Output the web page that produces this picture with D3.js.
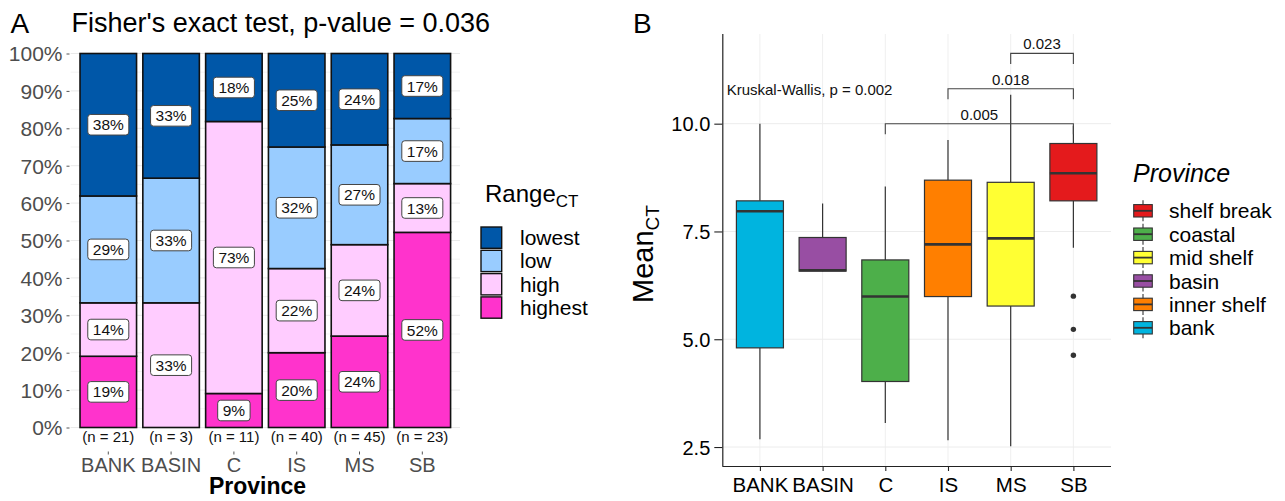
<!DOCTYPE html>
<html>
<head>
<meta charset="utf-8">
<script src="https://cdn.jsdelivr.net/npm/d3@7"></script>
<style>
  html, body { margin: 0; padding: 0; background: #fff; }
  svg { display: block; font-family: "Liberation Sans", Arial, Helvetica, sans-serif; }
</style>
</head>
<body>
<svg id="chart" width="1285" height="501"></svg>
<script>
// ---------------- Panel A data ----------------
const provinces = ["BANK", "BASIN", "C", "IS", "MS", "SB"];
const rangeLevels = ["lowest", "low", "high", "highest"];
const rangeColors = ["#0057A8", "#99CCFF", "#FFCCFF", "#FF33CC"];
const countsLowest  = [8, 1, 2, 10, 11, 4];
const countsLow     = [6, 1, 0, 13, 12, 4];
const countsHigh    = [3, 1, 8, 9, 11, 3];
const countsHighest = [4, 0, 1, 8, 11, 12];
const pctTicks = [0, 10, 20, 30, 40, 50, 60, 70, 80, 90, 100];
const titleA = "Fisher's exact test, p-value = 0.036";

// ---------------- Panel B data ----------------
const whiskerLow  = [2.68, 6.57, 3.06, 2.66, 2.52, 7.12];
const q1          = [4.80, 6.58, 4.02, 5.99, 5.77, 8.21];
const medians     = [7.97, 6.60, 5.99, 7.20, 7.34, 8.85];
const q3          = [8.21, 7.36, 6.84, 8.69, 8.64, 9.54];
const whiskerHigh = [10.00, 8.15, 8.54, 9.62, 10.67, 9.95];
const outliers    = [[], [], [], [], [], [6.00, 5.23, 4.63]];
const provinceNames = ["bank", "basin", "coastal", "inner shelf", "mid shelf", "shelf break"];
const legendOrder = ["shelf break", "coastal", "mid shelf", "basin", "inner shelf", "bank"];
const legendColors = ["#E41A1C", "#4DAF4A", "#FFFF33", "#984EA3", "#FF7F00", "#00B4DF"];
const meanTicks = [2.5, 5.0, 7.5, 10.0];
const compGroup1 = ["C", "IS", "MS"];
const compGroup2 = ["SB", "SB", "SB"];
const compP = ["0.005", "0.018", "0.023"];
const compY = [10.0, 10.81, 11.63];
const kruskalLabel = "Kruskal-Wallis, p = 0.002";

const svg = d3.select("#chart");

function roundHalfEven(v) {
  const f = Math.floor(v), d = v - f;
  if (Math.abs(d - 0.5) < 1e-9) return (f % 2 === 0) ? f : f + 1;
  return Math.round(v);
}

// ================= PANEL A =================
const A = svg.append("g");
const xA = d3.scaleBand().domain(provinces).range([70.6, 460]).paddingInner(0.1).paddingOuter(0.15);
const yA = d3.scaleLinear().domain([0, 100]).range([427.5, 53.5]);

// grid
const minorA = d3.range(5, 100, 10);
A.selectAll(".gminor").data(minorA).join("line")
  .attr("x1", 70.6).attr("x2", 460).attr("y1", d => yA(d)).attr("y2", d => yA(d))
  .attr("stroke", "#f3f3f3").attr("stroke-width", 1);
A.selectAll(".gmajor").data(pctTicks).join("line")
  .attr("x1", 70.6).attr("x2", 460).attr("y1", d => yA(d)).attr("y2", d => yA(d))
  .attr("stroke", "#e9e9e9").attr("stroke-width", 1);

// stacked data
const countsByLevel = { lowest: countsLowest, low: countsLow, high: countsHigh, highest: countsHighest };
const stackOrder = ["highest", "high", "low", "lowest"];
const segs = [];
provinces.forEach((p, i) => {
  const total = stackOrder.reduce((s, k) => s + countsByLevel[k][i], 0);
  let cum = 0;
  stackOrder.forEach(k => {
    const c = countsByLevel[k][i];
    const pct = 100 * c / total;
    segs.push({ p, level: k, y0: cum, y1: cum + pct, pct: (c * 100) / total, count: c });
    cum += pct;
  });
});

A.selectAll(".seg").data(segs.filter(d => d.count > 0)).join("rect")
  .attr("x", d => xA(d.p)).attr("width", xA.bandwidth())
  .attr("y", d => yA(d.y1)).attr("height", d => yA(d.y0) - yA(d.y1))
  .attr("fill", d => rangeColors[rangeLevels.indexOf(d.level)])
  .attr("stroke", "#111").attr("stroke-width", 1.6);

// labels
const labG = A.selectAll(".lab").data(segs.filter(d => d.count > 0)).join("g")
  .attr("transform", d => `translate(${xA(d.p) + xA.bandwidth() / 2},${yA((d.y0 + d.y1) / 2)})`);
labG.each(function (d) {
  const g = d3.select(this);
  const t = g.append("text").text(roundHalfEven(d.pct) + "%")
    .attr("text-anchor", "middle").attr("dy", "0.36em")
    .attr("font-size", 15.5).attr("fill", "#111");
  const w = t.node().getComputedTextLength();
  g.insert("rect", "text").attr("x", -w / 2 - 5).attr("y", -10.3)
    .attr("width", w + 10).attr("height", 20.6).attr("rx", 3)
    .attr("fill", "#fff").attr("stroke", "#444").attr("stroke-width", 1);
});

// y axis A
const yAxisA = A.append("g").attr("transform", "translate(69.5,0)")
  .call(d3.axisLeft(yA).tickValues(pctTicks).tickFormat(d => d + "%").tickSize(3).tickPadding(4));
yAxisA.select(".domain").remove();
yAxisA.selectAll(".tick line").attr("stroke", "#555");
yAxisA.selectAll(".tick text").attr("font-size", 21).attr("fill", "#4d4d4d")
  .attr("font-family", "Liberation Sans, Arial, sans-serif").attr("dy", "0.35em");

// x axis A
const xAxisA = A.append("g").attr("transform", "translate(0,451.5)")
  .call(d3.axisBottom(xA).tickSize(3).tickPadding(0));
xAxisA.select(".domain").remove();
xAxisA.selectAll(".tick line").attr("stroke", "#555");
xAxisA.selectAll(".tick text").attr("font-size", 20).attr("fill", "#4d4d4d")
  .attr("font-family", "Liberation Sans, Arial, sans-serif").attr("y", 20).attr("dy", 0);

// n labels
A.selectAll(".nlab").data(provinces).join("text")
  .attr("x", d => xA(d) + xA.bandwidth() / 2).attr("y", 441.5)
  .attr("text-anchor", "middle").attr("font-size", 15).attr("fill", "#111")
  .text((d, i) => `(n = ${countsLowest[i] + countsLow[i] + countsHigh[i] + countsHighest[i]})`);

// titles
A.append("text").attr("x", 10.5).attr("y", 33).attr("font-size", 28).attr("fill", "#000").text("A");
A.append("text").attr("x", 71.5).attr("y", 32).attr("font-size", 27).attr("fill", "#000").text(titleA);
A.append("text").attr("x", 257.5).attr("y", 494).attr("text-anchor", "middle")
  .attr("font-size", 23).attr("font-weight", "bold").attr("fill", "#000").text("Province");

// legend A
const legA = A.append("g");
const lt = legA.append("text").attr("x", 485).attr("y", 202).attr("font-size", 24).attr("fill", "#000");
lt.append("tspan").text("Range");
lt.append("tspan").attr("font-size", 17).attr("dy", 5).text("CT");
rangeLevels.forEach((lv, i) => {
  const y0 = 227 + i * 23.3;
  legA.append("rect").attr("x", 481).attr("y", y0).attr("width", 20.7).attr("height", 21.3)
    .attr("fill", rangeColors[i]).attr("stroke", "#111").attr("stroke-width", 1.4);
  legA.append("text").attr("x", 520).attr("y", y0 + 18).attr("font-size", 21).attr("fill", "#000").text(lv);
});

// ================= PANEL B =================
const B = svg.append("g");
const xB = d3.scalePoint().domain(provinces).range([722.3, 1111]).padding(0.6);
const yB = d3.scaleLinear().domain([2.06, 12.08]).range([466, 34]);
const stepB = xB.step();
const boxW = stepB * 0.75;

// grid
B.selectAll(".vg").data(provinces).join("line")
  .attr("x1", d => xB(d)).attr("x2", d => xB(d)).attr("y1", 34).attr("y2", 466)
  .attr("stroke", "#efefef").attr("stroke-width", 1);
B.selectAll(".hg").data(meanTicks).join("line")
  .attr("x1", 722.3).attr("x2", 1111).attr("y1", d => yB(d)).attr("y2", d => yB(d))
  .attr("stroke", "#ececec").attr("stroke-width", 1);

// boxes
provinces.forEach((p, i) => {
  const cx = xB(p);
  const col = legendColors[legendOrder.indexOf(provinceNames[i])];
  B.append("line").attr("x1", cx).attr("x2", cx).attr("y1", yB(whiskerHigh[i])).attr("y2", yB(q3[i]))
    .attr("stroke", "#333").attr("stroke-width", 1.2);
  B.append("line").attr("x1", cx).attr("x2", cx).attr("y1", yB(q1[i])).attr("y2", yB(whiskerLow[i]))
    .attr("stroke", "#333").attr("stroke-width", 1.2);
  B.append("rect").attr("x", cx - boxW / 2).attr("width", boxW)
    .attr("y", yB(q3[i])).attr("height", yB(q1[i]) - yB(q3[i]))
    .attr("fill", col).attr("stroke", "#333").attr("stroke-width", 1.2);
  B.append("line").attr("x1", cx - boxW / 2).attr("x2", cx + boxW / 2)
    .attr("y1", yB(medians[i])).attr("y2", yB(medians[i]))
    .attr("stroke", "#333").attr("stroke-width", 2.6);
  outliers[i].forEach(v => {
    B.append("circle").attr("cx", cx).attr("cy", yB(v)).attr("r", 2.7).attr("fill", "#333");
  });
});

// axes B
const yAxisB = B.append("g").attr("transform", "translate(722.3,0)")
  .call(d3.axisLeft(yB).tickValues(meanTicks).tickFormat(d3.format(".1f")).tickSize(8).tickPadding(4));
yAxisB.select(".domain").attr("d", `M0.5,34V466`).attr("stroke", "#222").attr("stroke-width", 1.2);
yAxisB.selectAll(".tick line").attr("stroke", "#222").attr("stroke-width", 1.1);
yAxisB.selectAll(".tick text").attr("font-size", 20).attr("fill", "#000")
  .attr("font-family", "Liberation Sans, Arial, sans-serif").attr("dy", "0.35em");

const xAxisB = B.append("g").attr("transform", "translate(0,466)")
  .call(d3.axisBottom(xB).tickSize(5).tickPadding(0));
xAxisB.select(".domain").attr("d", "M722.3,0.5H1111").attr("stroke", "#222").attr("stroke-width", 1.2);
xAxisB.selectAll(".tick line").attr("stroke", "#222").attr("stroke-width", 1.1);
xAxisB.selectAll(".tick text").attr("font-size", 20.5).attr("fill", "#000")
  .attr("font-family", "Liberation Sans, Arial, sans-serif").attr("y", 25.5).attr("dy", 0);

// y title
const yt = B.append("text").attr("transform", "translate(653,303) rotate(-90)")
  .attr("font-size", 29).attr("fill", "#000");
yt.append("tspan").text("Mean");
yt.append("tspan").attr("font-size", 19).attr("dy", 6).text("CT");

B.append("text").attr("x", 633).attr("y", 33).attr("font-size", 28).attr("fill", "#000").text("B");

// comparisons
const tipLen = 10.5;
compP.forEach((p, i) => {
  const x1 = xB(compGroup1[i]), x2 = xB(compGroup2[i]), yy = yB(compY[i]);
  B.append("path").attr("d", `M${x1},${yy + tipLen}V${yy}H${x2}V${yy + tipLen}`)
    .attr("fill", "none").attr("stroke", "#444").attr("stroke-width", 1.1);
  B.append("text").attr("x", (x1 + x2) / 2).attr("y", yy - 4).attr("text-anchor", "middle")
    .attr("font-size", 15).attr("fill", "#111").text(p);
});
B.append("text").attr("x", 726.7).attr("y", 95).attr("font-size", 15).attr("fill", "#111").text(kruskalLabel);

// legend B
const legB = B.append("g");
legB.append("text").attr("x", 1133).attr("y", 181.5).attr("font-size", 25).attr("font-style", "italic")
  .attr("fill", "#000").text("Province");
legendOrder.forEach((nm, i) => {
  const cy = 210.8 + i * 23.4, cx = 1143;
  legB.append("line").attr("x1", cx).attr("x2", cx).attr("y1", cy - 10.5).attr("y2", cy + 10.5)
    .attr("stroke", "#333").attr("stroke-width", 1.1);
  legB.append("rect").attr("x", cx - 9.3).attr("y", cy - 6.2).attr("width", 18.6).attr("height", 12.4)
    .attr("fill", legendColors[i]).attr("stroke", "#333").attr("stroke-width", 1.1);
  legB.append("line").attr("x1", cx - 9.3).attr("x2", cx + 9.3).attr("y1", cy).attr("y2", cy)
    .attr("stroke", "#333").attr("stroke-width", 1.8);
  legB.append("text").attr("x", 1169).attr("y", cy + 7.5).attr("font-size", 21).attr("fill", "#000").text(nm);
});
</script>
</body>
</html>
